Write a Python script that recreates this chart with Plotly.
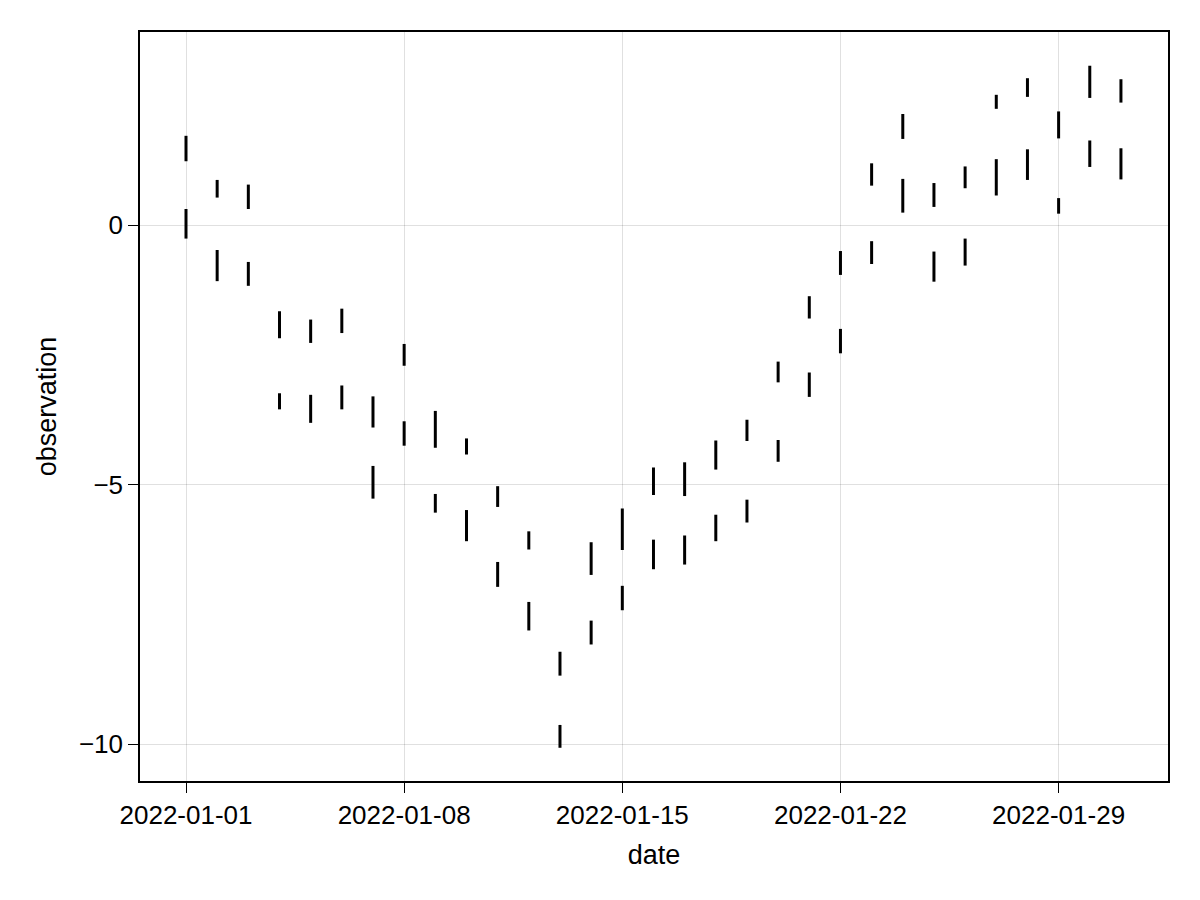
import plotly.graph_objects as go
import pandas as pd

dates = pd.date_range("2022-01-01", periods=31, freq="D")

upper_hi = [1.72, 0.87, 0.78, -1.66, -1.82, -1.61, -3.30, -2.29, -3.58, -4.11, -5.03, -5.90, -8.22, -6.11, -5.46,
            -4.67, -4.57, -4.15, -3.75, -2.63, -1.37, -0.50, 1.19, 2.14, 0.81, 1.13, 2.51, 2.83, 2.19, 3.07, 2.81]
upper_lo = [1.23, 0.53, 0.31, -2.18, -2.27, -2.08, -3.90, -2.71, -4.29, -4.42, -5.43, -6.25, -8.68, -6.74, -6.26,
            -5.20, -5.22, -4.71, -4.16, -3.03, -1.80, -0.96, 0.76, 1.66, 0.35, 0.71, 2.24, 2.47, 1.67, 2.45, 2.36]
lower_hi = [0.31, -0.48, -0.71, -3.24, -3.27, -3.09, -4.64, -3.78, -5.18, -5.49, -6.49, -7.26, -9.63, -7.62, -6.95,
            -6.06, -5.98, -5.58, -5.29, -4.14, -2.84, -2.00, -0.31, 0.89, -0.51, -0.26, 1.27, 1.46, 0.52, 1.63, 1.48]
lower_lo = [-0.26, -1.08, -1.17, -3.55, -3.81, -3.55, -5.27, -4.25, -5.54, -6.09, -6.97, -7.81, -10.07, -8.08, -7.42,
            -6.63, -6.54, -6.09, -5.73, -4.56, -3.31, -2.47, -0.75, 0.24, -1.09, -0.78, 0.57, 0.87, 0.22, 1.12, 0.88]

y_tick_vals = [0, -5, -10]
y_tick_text = ["0", "\u22125", "\u221210"]
x_tick_vals = ["2022-01-01", "2022-01-08", "2022-01-15", "2022-01-22", "2022-01-29"]


def segments(lo, hi):
    xs, ys = [], []
    for d, a, b in zip(dates, lo, hi):
        xs += [d, d, None]
        ys += [a, b, None]
    return xs, ys


fig = go.Figure()
for lo, hi in [(upper_lo, upper_hi), (lower_lo, lower_hi)]:
    xs, ys = segments(lo, hi)
    fig.add_trace(go.Scatter(x=xs, y=ys, mode="lines",
                             line=dict(color="black", width=3),
                             connectgaps=False, showlegend=False, hoverinfo="skip"))

font_family = "Liberation Sans, Arial, sans-serif"
fig.update_layout(
    width=1200, height=900,
    margin=dict(l=132, r=40, t=24, b=127, autoexpand=False),
    paper_bgcolor="white", plot_bgcolor="white",
    font=dict(family=font_family, size=26, color="black"),
    showlegend=False,
)
fig.update_xaxes(
    range=[pd.Timestamp("2022-01-01") - pd.Timedelta(days=1.476),
           pd.Timestamp("2022-01-01") + pd.Timedelta(days=31.51)],
    tickvals=x_tick_vals, tickformat="%Y-%m-%d",
    showgrid=True, gridcolor="rgba(0,0,0,0.12)", gridwidth=1,
    zeroline=False, showline=True, linecolor="black", linewidth=1.5, mirror=True,
    ticks="outside", ticklen=10, tickwidth=1.3, tickcolor="black",
    title=dict(text="date", standoff=16, font=dict(size=27)),
    tickfont=dict(size=26),
    automargin=False,
)
fig.update_yaxes(
    range=[-10.71, 3.72],
    tickvals=y_tick_vals, ticktext=y_tick_text,
    showgrid=True, gridcolor="rgba(0,0,0,0.12)", gridwidth=1,
    zeroline=False, showline=True, linecolor="black", linewidth=1.5, mirror=True,
    ticks="outside", ticklen=10, tickwidth=1.3, tickcolor="black",
    title=dict(text="observation", standoff=14, font=dict(size=27)),
    tickfont=dict(size=26),
    automargin=False,
)

fig.write_html("out.html")
